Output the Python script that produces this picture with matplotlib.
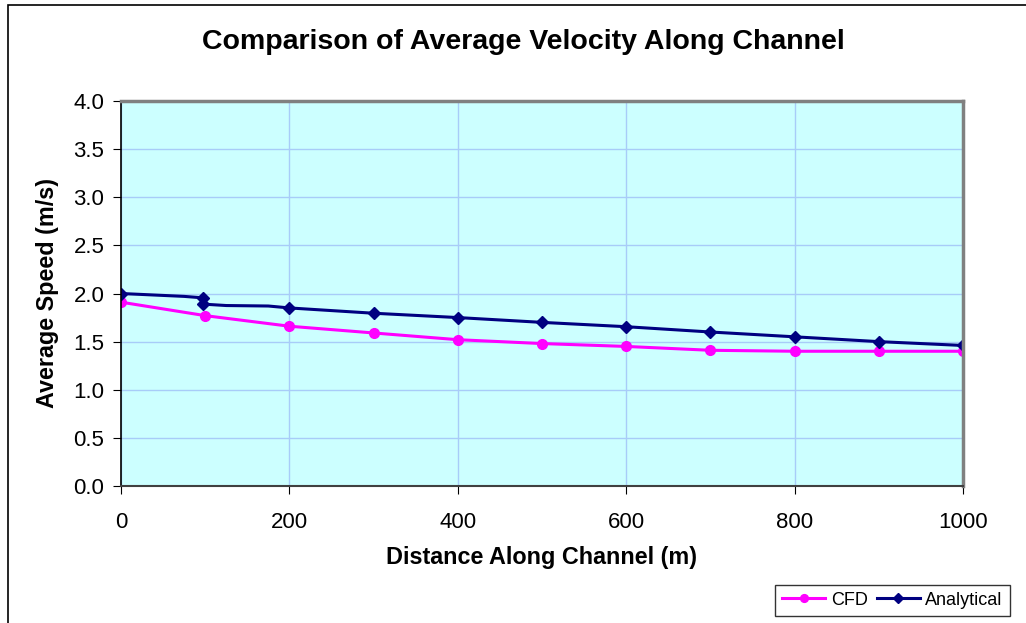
import matplotlib.pyplot as plt
from matplotlib.patches import Rectangle

plt.rcParams['font.family'] = ['Liberation Sans', 'DejaVu Sans']

# data
cfd_x = [0, 100, 200, 300, 400, 500, 600, 700, 800, 900, 1000]
cfd_y = [1.91, 1.77, 1.66, 1.59, 1.52, 1.48, 1.45, 1.41, 1.40, 1.40, 1.40]

ana_x = [0, 25, 50, 75, 97, 97, 125, 175, 200, 300, 400, 500, 600, 700, 800, 900, 1000]
ana_y = [2.00, 1.99, 1.98, 1.97, 1.955, 1.89, 1.875, 1.87, 1.85, 1.795, 1.75, 1.70,
         1.655, 1.60, 1.55, 1.50, 1.46]
ana_marks = [0, 4, 5, 8, 9, 10, 11, 12, 13, 14, 15, 16]

fig = plt.figure(figsize=(10.26, 6.23), dpi=100)
fig.patches.append(Rectangle((8 / 1026, -0.1), 1.1, 1 - 5 / 623 + 0.1,
                             transform=fig.transFigure, fill=False,
                             edgecolor='black', linewidth=1.2))

ax = fig.add_axes([121 / 1026, 1 - 486 / 623, 842 / 1026, 385 / 623])
ax.set_facecolor('#CCFFFF')

ax.plot(cfd_x, cfd_y, color='#FF00FF', lw=2.2, marker='o', ms=7, label='CFD')
ax.plot(ana_x, ana_y, color='#000080', lw=2.2, marker='D', ms=6,
        markevery=ana_marks, label='Analytical')

ax.set_xlim(0, 1000)
ax.set_ylim(0, 4.0)
ax.set_xticks(range(0, 1001, 200))
ax.set_yticks([i * 0.5 for i in range(9)])
ax.set_yticklabels([f'{i * 0.5:.1f}' for i in range(9)])
ax.grid(True, color='#A8CCF8', lw=1)
ax.set_axisbelow(True)

for s in ['top', 'right']:
    ax.spines[s].set_color('#808080')
    ax.spines[s].set_linewidth(2.5)
ax.spines['left'].set_color('black')
ax.spines['bottom'].set_color('#404040')
ax.spines['left'].set_linewidth(1.2)
ax.spines['bottom'].set_linewidth(1.5)
ax.tick_params(direction='out', length=6, labelsize=16, color='black', pad=6)
ax.tick_params(axis='x', pad=13)

fig.text(523 / 1026, 1 - 42 / 623, 'Comparison of Average Velocity Along Channel',
         fontsize=20.5, fontweight='bold', ha='center', va='center')
ax.set_xlabel('Distance Along Channel (m)', fontsize=16.8, fontweight='bold', labelpad=9)
ax.set_ylabel('Average Speed (m/s)', fontsize=16.8, fontweight='bold', labelpad=10)

leg = fig.legend(loc='lower right', bbox_to_anchor=(1010 / 1026, 7 / 623), ncol=2,
                 fontsize=13, frameon=True, fancybox=False, edgecolor='black',
                 handlelength=2.4, handletextpad=0.3, columnspacing=0.5,
                 borderpad=0.4, borderaxespad=0, markerscale=0.8)
leg.get_frame().set_linewidth(1)

fig.savefig('out.png', dpi=100)
